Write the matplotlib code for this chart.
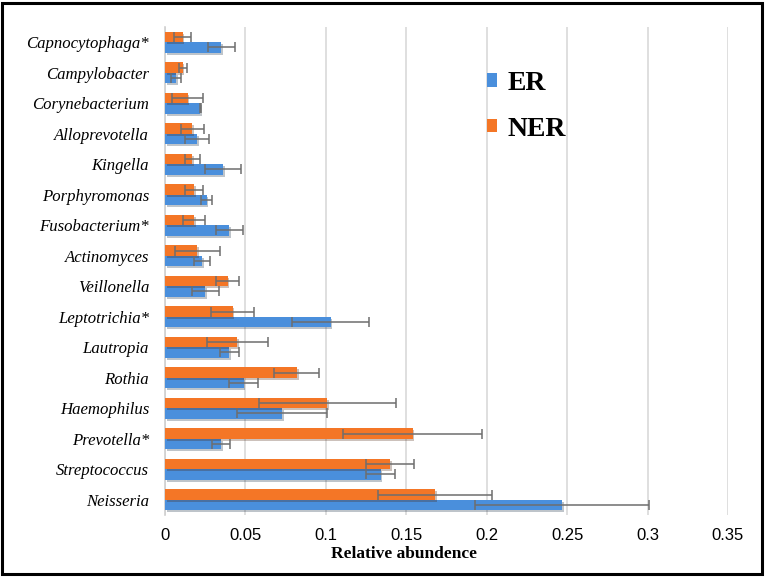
import matplotlib
matplotlib.use("Agg")
import matplotlib.pyplot as plt
import numpy as np
from matplotlib.patches import Rectangle, Patch
import matplotlib.patheffects as pe

categories = ["Neisseria", "Streptococcus", "Prevotella*", "Haemophilus", "Rothia",
              "Lautropia", "Leptotrichia*", "Veillonella", "Actinomyces", "Fusobacterium*",
              "Porphyromonas", "Kingella", "Alloprevotella", "Corynebacterium",
              "Campylobacter", "Capnocytophaga*"]
er_mean = [0.247, 0.134, 0.035, 0.073, 0.049, 0.040, 0.103, 0.025, 0.023, 0.040,
           0.026, 0.036, 0.020, 0.022, 0.007, 0.035]
er_err = [0.054, 0.009, 0.0055, 0.028, 0.009, 0.006, 0.024, 0.0085, 0.005, 0.0085,
          0.0034, 0.0113, 0.0075, 0.0003, 0.003, 0.0083]
ner_mean = [0.168, 0.140, 0.154, 0.101, 0.082, 0.045, 0.042, 0.039, 0.020, 0.018,
            0.018, 0.017, 0.017, 0.014, 0.011, 0.011]
ner_err = [0.0355, 0.0148, 0.0432, 0.0425, 0.014, 0.019, 0.0135, 0.007, 0.014, 0.0066,
           0.0057, 0.0047, 0.0073, 0.0097, 0.0026, 0.0054]
xticks = [0, 0.05, 0.1, 0.15, 0.2, 0.25, 0.3, 0.35]
xtick_labels = ["0", "0.05", "0.1", "0.15", "0.2", "0.25", "0.3", "0.35"]

BLUE = "#4a8fdc"
ORANGE = "#f47626"

fig = plt.figure(figsize=(7.65, 5.77), dpi=100)
ax = fig.add_axes([165/765, 1-515/577, (728-165)/765, (515-27)/577])

y = np.arange(len(categories))
h = 0.34
shadow = [pe.SimplePatchShadow(offset=(1.2, -1.5), alpha=0.28), pe.Normal()]
ebk = dict(ecolor="#6e6e6e", elinewidth=1.1, capsize=3.5, capthick=1.1)
b1 = ax.barh(y - h/2, er_mean, height=h, color=BLUE, xerr=er_err, error_kw=ebk, zorder=3)
b2 = ax.barh(y + h/2, ner_mean, height=h, color=ORANGE, xerr=ner_err, error_kw=ebk, zorder=3)
for p in list(b1.patches) + list(b2.patches):
    p.set_path_effects(shadow)

ax.set_xlim(0, 0.35)
ax.set_ylim(-0.5, len(categories) - 0.5)
ax.set_xticks(xticks)
ax.set_xticklabels(xtick_labels, fontfamily="Liberation Sans", fontsize=12)
ax.set_yticks(y)
ax.set_yticklabels(categories, fontfamily="Liberation Serif", fontstyle="italic", fontsize=12.1)
ax.tick_params(axis="both", length=0)
ax.tick_params(axis="x", pad=9)
ax.tick_params(axis="y", pad=11.5)
ax.grid(axis="x", color="#d9d9d9", linewidth=1.2, zorder=0)
ax.set_axisbelow(True)
for s in ["top", "right", "bottom"]:
    ax.spines[s].set_visible(False)
ax.spines["left"].set_color("#d0d0d0")
ax.spines["left"].set_linewidth(1.2)

ax.set_xlabel("Relative abundence", fontfamily="Liberation Serif", fontweight="bold", fontsize=12.5)
ax.xaxis.set_label_coords(0.424, -0.064)

handles = [Patch(facecolor=BLUE), Patch(facecolor=ORANGE)]
fig.legend(handles, ["ER", "NER"], loc="upper left", bbox_to_anchor=(462/765, 1-46/577),
           frameon=False, handlelength=0.35, handleheight=0.35, handletextpad=0.4,
           labelspacing=0.75, prop=dict(family="Liberation Serif", weight="bold", size=20))

fig.patches.append(Rectangle((0.003, 0.005), 0.993, 0.99, transform=fig.transFigure,
                             fill=False, edgecolor="black", linewidth=2.2))

fig.savefig("out.png", dpi=100)
